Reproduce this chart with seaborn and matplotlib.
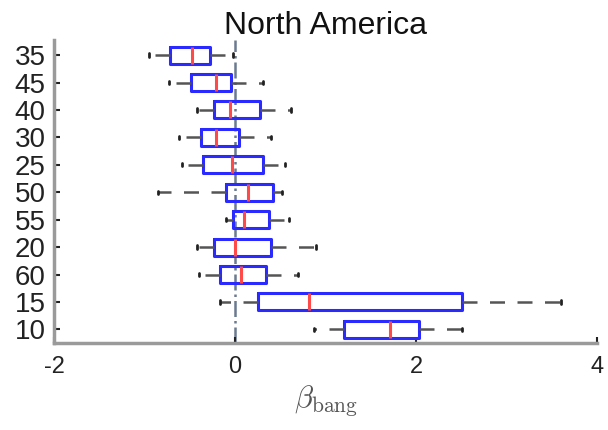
import numpy as np
import pandas as pd
import matplotlib
matplotlib.use("Agg")
import matplotlib.pyplot as plt
import seaborn as sns

# Data
categories = ['35', '45', '40', '30', '25', '50', '55', '20', '60', '15', '10']
whisker_low = [-0.95, -0.73, -0.42, -0.62, -0.59, -0.85, -0.10, -0.42, -0.40, -0.17, 0.87]
q1 = [-0.72, -0.49, -0.23, -0.38, -0.36, -0.10, -0.02, -0.23, -0.17, 0.25, 1.20]
median = [-0.48, -0.21, -0.06, -0.21, -0.03, 0.14, 0.10, 0.00, 0.07, 0.82, 1.71]
q3 = [-0.28, -0.05, 0.28, 0.04, 0.31, 0.42, 0.37, 0.40, 0.34, 2.51, 2.03]
whisker_high = [-0.02, 0.31, 0.62, 0.40, 0.55, 0.52, 0.60, 0.89, 0.70, 3.60, 2.51]
x_ticks = [-2, 0, 2, 4]

rows = []
for i, c in enumerate(categories):
    for v in (whisker_low[i], q1[i], median[i], q3[i], whisker_high[i]):
        rows.append({'group': c, 'beta': v})
df = pd.DataFrame(rows)

sns.set_style("white")
plt.rcParams['font.family'] = ['Liberation Sans', 'DejaVu Sans']
plt.rcParams['mathtext.fontset'] = 'cm'

fig = plt.figure(figsize=(6.08, 4.30), dpi=100)
ax = fig.add_axes([0.089, 0.202, 0.893, 0.705])

ax.axvline(0, color='#6b7a90', linestyle='-.', linewidth=1.8, zorder=0)

sns.boxplot(
    data=df, x='beta', y='group', order=categories, orient='h',
    whis=(0, 100), width=0.62, fill=False, showfliers=False,
    linecolor='#2a2aff', linewidth=2.0,
    boxprops=dict(color='#2a2aff', linewidth=2.2),
    medianprops=dict(color='#ff4a4a', linewidth=2.2),
    whiskerprops=dict(color='#555555', linestyle=(0, (6, 5)), linewidth=1.8),
    capprops=dict(color='#222222', linewidth=2.0),
    capwidths=0.12,
    ax=ax,
)

ax.set_xlim(-2, 4)
ax.set_ylim(10.5, -0.55)
ax.set_xticks(x_ticks)
ax.set_xticklabels([str(t) for t in x_ticks])
ax.tick_params(axis='y', direction='in', length=4, width=1.5, color='#222222',
               labelsize=20, pad=6, labelcolor='#222222', left=True)
ax.tick_params(axis='x', direction='in', length=4, width=1.5, color='#222222',
               labelsize=17, pad=9, labelcolor='#222222', bottom=True)

for s in ['top', 'right']:
    ax.spines[s].set_visible(False)
for s in ['left', 'bottom']:
    ax.spines[s].set_color('#9a9a9a')
    ax.spines[s].set_linewidth(2.5)

ax.set_ylabel('')
ax.set_xlabel(r'$\beta_{\mathrm{bang}}$', fontsize=22, color='#555555', labelpad=4)
ax.set_title('North America', fontsize=23, pad=4, color='#111111')

fig.savefig('out.png', dpi=100)
